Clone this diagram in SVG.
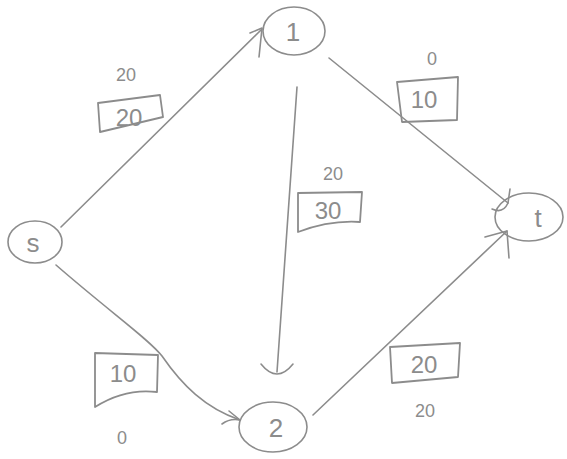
<svg xmlns="http://www.w3.org/2000/svg" width="567" height="459" viewBox="0 0 567 459">
<style>
.s{fill:none;stroke:#8c8c8c;stroke-width:1.6;stroke-linecap:round;stroke-linejoin:round}
.b{fill:none;stroke:#8c8c8c;stroke-width:1.8;stroke-linejoin:round}
.n{font-family:"Liberation Sans",Arial,sans-serif;fill:#8c8c8c;text-anchor:middle}
.big{font-size:26px}
.box{font-size:24px}
.sm{font-size:18px}
</style>
<rect width="567" height="459" fill="#fff"/>
<g id="connectors">
<path class="s" d="M61,227 L262,29"/>
<path class="s" d="M250,33 L262,28 L259,57"/>
<path class="s" d="M329,58 L508,203"/>
<path class="s" d="M492,209 Q503,214 508,203 L510,189"/>
<path class="s" d="M297,87 L277,372"/>
<path class="s" d="M261,364 Q277,384 293,364"/>
<path class="s" d="M56,265 C110,312 150,340 162,356 C182,385 205,408 240,420"/>
<path class="s" d="M222,424 Q230,418 240,420 L229,411"/>
<path class="s" d="M313,415 L507,231"/>
<path class="s" d="M485,237 L507,231 L509,258"/>
</g>
<g id="node-s">
<ellipse class="s" cx="35" cy="242" rx="27" ry="21"/>
<text class="n big" x="33" y="252">s</text>
</g>
<g id="node-1">
<ellipse class="s" cx="294" cy="31" rx="31" ry="24"/>
<text class="n big" x="293" y="41">1</text>
</g>
<g id="node-t">
<ellipse class="s" cx="529" cy="217" rx="34" ry="24"/>
<text class="n big" x="538" y="227">t</text>
</g>
<g id="node-2">
<ellipse class="s" cx="273" cy="427" rx="34" ry="25"/>
<text class="n big" x="276" y="437">2</text>
</g>
<g id="label-s1">
<text class="n sm" x="126" y="81">20</text>
<path class="b" d="M98,103 L160,95 L163,117 L100,132 Z"/>
<text class="n box" x="129" y="126">20</text>
</g>
<g id="label-1t">
<text class="n sm" x="432" y="65">0</text>
<path class="b" d="M397,82 L458,77 L457,120 L402,122 Z"/>
<text class="n box" x="424" y="108">10</text>
</g>
<g id="label-12">
<text class="n sm" x="333" y="180">20</text>
<path class="b" d="M298,193 L362,192 L360,222 Q330,220 298,232 Z"/>
<text class="n box" x="328" y="219">30</text>
</g>
<g id="label-s2">
<path class="b" d="M95,353 L158,355 L157,392 Q125,388 95,407 Z"/>
<text class="n box" x="123" y="382">10</text>
<text class="n sm" x="122" y="444">0</text>
</g>
<g id="label-2t">
<path class="b" d="M390,347 L460,343 L458,377 L392,383 Z"/>
<text class="n box" x="424" y="373">20</text>
<text class="n sm" x="425" y="417">20</text>
</g>
</svg>
